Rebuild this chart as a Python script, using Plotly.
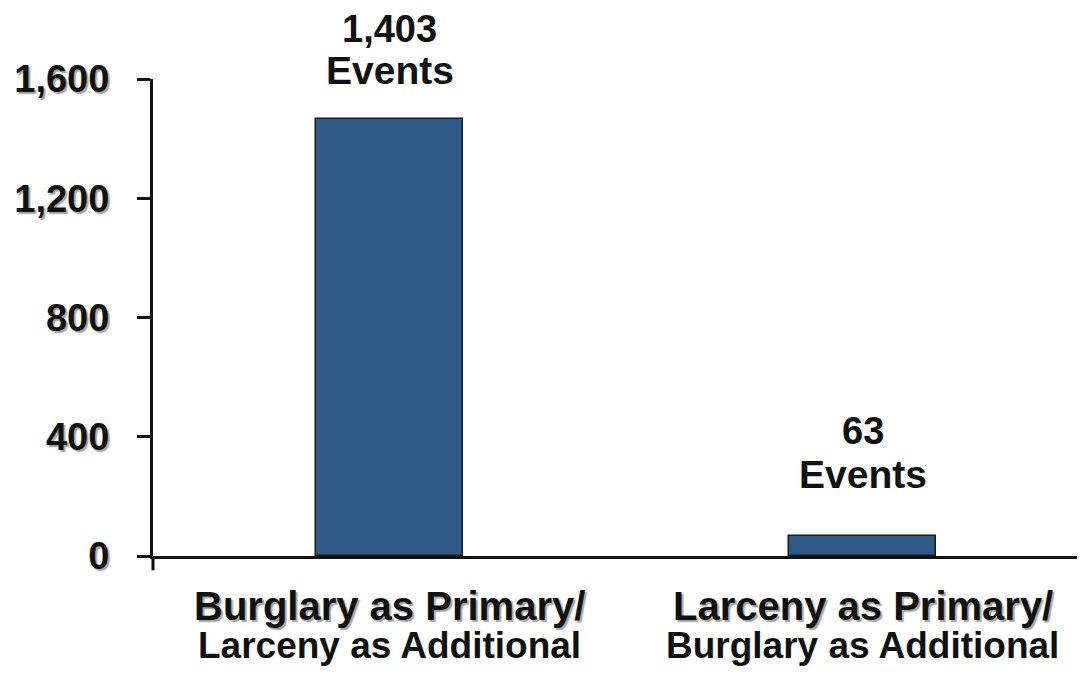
import plotly.graph_objects as go

categories = ["Burglary as Primary/Larceny as Additional", "Larceny as Primary/Burglary as Additional"]
label_line1 = ["Burglary as Primary/", "Larceny as Primary/"]
label_line2 = ["Larceny as Additional", "Burglary as Additional"]
bar_heights = [1465, 68]          # heights as drawn in the reference
event_counts = ["1,403", "63"]    # printed labels
y_ticks = [0, 400, 800, 1200, 1600]
y_ticktext = ["0", "400", "800", "1,200", "1,600"]

INK = "#111111"
FONT = "Liberation Sans, Arial, sans-serif"
SHADOW = "2px 2px 1px rgba(0,0,0,0.35)"

fig = go.Figure()
fig.add_trace(go.Bar(
    x=categories, y=bar_heights, width=0.31,
    marker=dict(color="#2D5986", line=dict(color="#1a1a1a", width=1.5)),
    hoverinfo="skip",
))

# value labels above bars
count_shift = [90, 105]
events_shift = [49, 61]
for cat, h, txt, s1, s2 in zip(categories, bar_heights, event_counts, count_shift, events_shift):
    fig.add_annotation(x=cat, y=h, xref="x", yref="y", text=f"<b>{txt}</b>", showarrow=False,
                       yanchor="middle", yshift=s1, font=dict(family=FONT, size=38, color=INK))
    fig.add_annotation(x=cat, y=h, xref="x", yref="y", text="<b>Events</b>", showarrow=False,
                       yanchor="middle", yshift=s2, font=dict(family=FONT, size=39, color=INK))

# category labels (two lines, first shadowed)
for cat, l1, l2 in zip(categories, label_line1, label_line2):
    fig.add_annotation(x=cat, y=0, xref="x", yref="paper", text=f"<b>{l1}</b>", showarrow=False,
                       yanchor="middle", yshift=-50,
                       font=dict(family=FONT, size=40, color=INK, shadow=SHADOW))
    fig.add_annotation(x=cat, y=0, xref="x", yref="paper", text=f"<b>{l2}</b>", showarrow=False,
                       yanchor="middle", yshift=-89,
                       font=dict(family=FONT, size=37, color=INK))

# small extension of the y axis below the baseline
fig.add_shape(type="line", xref="paper", yref="paper", x0=0, x1=0, y0=0, y1=-0.03,
              line=dict(color=INK, width=3))

# page body has an 8px default margin, so the figure is offset accordingly
fig.update_layout(
    width=1077, height=668,
    margin=dict(l=145, r=0, t=71, b=120),
    paper_bgcolor="white", plot_bgcolor="white",
    showlegend=False,
    bargap=0,
    xaxis=dict(range=[-0.5, 1.47], showticklabels=False, ticks="", showgrid=False,
               showline=True, linecolor=INK, linewidth=3, zeroline=False),
    yaxis=dict(range=[0, 1600], tickvals=y_ticks, ticktext=y_ticktext,
               ticks="outside", ticklen=13, tickwidth=3, tickcolor=INK,
               ticklabelstandoff=20,
               showgrid=False, zeroline=False, showline=True, linecolor=INK, linewidth=3,
               tickfont=dict(family=FONT, size=38, color=INK, weight="bold", shadow=SHADOW)),
)

fig.write_html("out.html")
